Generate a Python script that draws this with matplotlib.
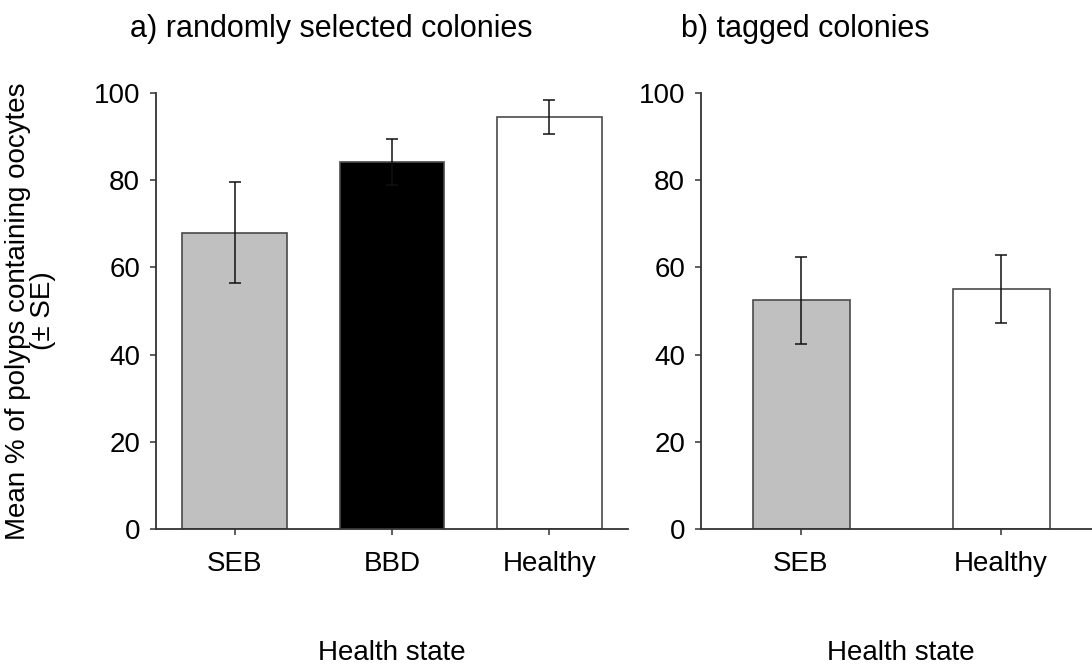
import matplotlib
matplotlib.use("Agg")
import matplotlib.pyplot as plt

plt.rcParams["font.family"] = ["Liberation Sans", "DejaVu Sans"]

# Panel a) randomly selected colonies
states_a = ["SEB", "BBD", "Healthy"]
mean_a = [68.0, 84.1, 94.4]
se_a = [11.5, 5.3, 3.9]
colors_a = ["#c0c0c0", "#000000", "#ffffff"]

# Panel b) tagged colonies
states_b = ["SEB", "Healthy"]
mean_b = [52.5, 55.1]
se_b = [10.0, 7.8]
colors_b = ["#c0c0c0", "#ffffff"]

yticks = [0, 20, 40, 60, 80, 100]

W, H = 1092, 668
fig = plt.figure(figsize=(W / 100, H / 100), dpi=100)

# axes boxes in pixels: left, bottom(from top), width, height
ax_a = fig.add_axes([156 / W, (H - 529) / H, 472 / W, 436 / H])
ax_b = fig.add_axes([701 / W, (H - 529) / H, 400 / W, 436 / H])


def draw_panel(ax, states, means, ses, colors, width):
    x = list(range(len(states)))
    ax.bar(x, means, width=width, color=colors, edgecolor="#4a4a4a",
           linewidth=1.2, zorder=2)
    ax.errorbar(x, means, yerr=ses, fmt="none", ecolor="#111111",
                elinewidth=1.1, capsize=4.5, capthick=1.1, zorder=3)
    ax.set_xlim(-0.5, len(states) - 0.5)
    ax.set_ylim(0, 100)
    ax.set_xticks(x)
    ax.set_xticklabels(states)
    ax.set_yticks(yticks)
    for side in ["top", "right"]:
        ax.spines[side].set_visible(False)
    for side in ["left", "bottom"]:
        ax.spines[side].set_color("#333333")
        ax.spines[side].set_linewidth(1.3)
    ax.tick_params(axis="both", direction="out", length=4.5, width=1.1,
                   color="#333333", labelsize=20)
    ax.tick_params(axis="x", pad=11)
    ax.tick_params(axis="y", pad=7)
    ax.set_xlabel("Health state", fontsize=20, va="baseline")
    ax.xaxis.set_label_coords(0.5, -(660 - 529) / 436)


draw_panel(ax_a, states_a, mean_a, se_a, colors_a, 0.667)
draw_panel(ax_b, states_b, mean_b, se_b, colors_b, 0.485)

ax_a.set_ylabel("Mean % of polyps containing oocytes\n(\u00b1 SE)", fontsize=20,
                linespacing=0.95)
ax_a.yaxis.set_label_coords(-(156 - 56) / 472, 0.5)

fig.text(331 / W, 1 - 37 / H, "a) randomly selected colonies", fontsize=22,
         ha="center", va="baseline")
fig.text(805 / W, 1 - 37 / H, "b) tagged colonies", fontsize=22,
         ha="center", va="baseline")

fig.savefig("out.png", dpi=100)
